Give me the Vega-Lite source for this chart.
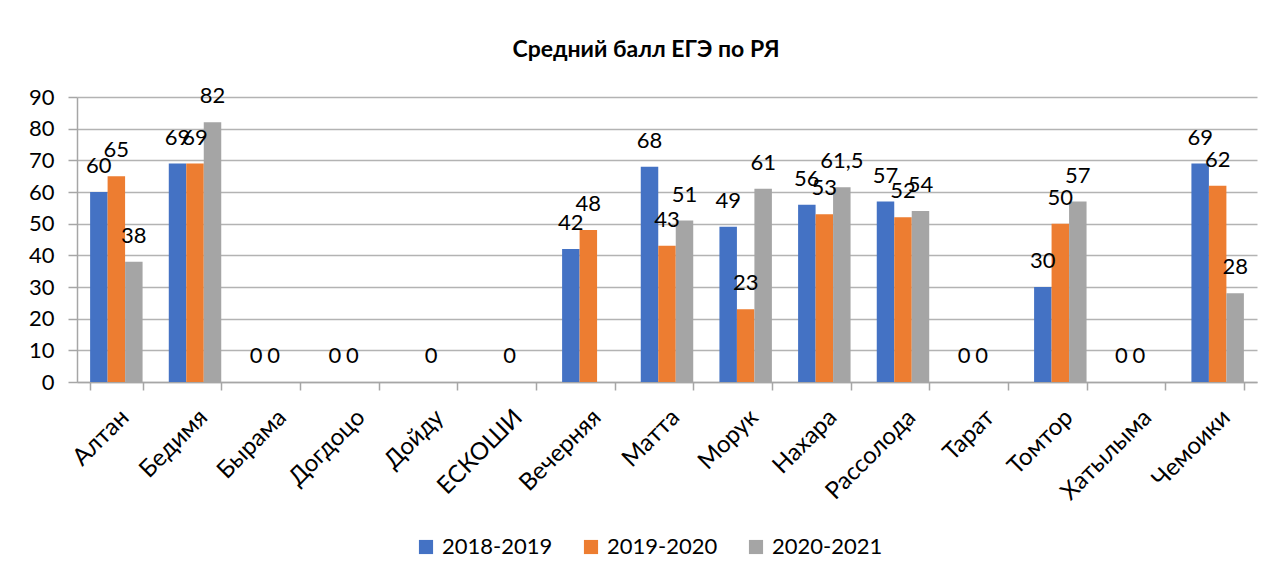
{
  "$schema": "https://vega.github.io/schema/vega-lite/v6.json",
  "autosize": {"type": "none"},
  "width": 1180,
  "height": 285,
  "padding": {"left": 77, "top": 97, "right": 20, "bottom": 199},
  "background": "white",
  "title": {"text": "Средний балл ЕГЭ по РЯ", "font": "Lato", "fontSize": 23, "fontWeight": "bold", "color": "#000000", "dx": -21, "offset": 23},
  "config": {
    "font": "Lato",
    "view": {"stroke": null},
    "locale": {"number": {"decimal": ",", "thousands": " ", "grouping": [3], "currency": ["", " ₽"]}}
  },
  "data": {"values": [
    {"school": "Алтан", "year": "2018-2019", "score": 60},
    {"school": "Алтан", "year": "2019-2020", "score": 65},
    {"school": "Алтан", "year": "2020-2021", "score": 38},
    {"school": "Бедимя", "year": "2018-2019", "score": 69},
    {"school": "Бедимя", "year": "2019-2020", "score": 69},
    {"school": "Бедимя", "year": "2020-2021", "score": 82},
    {"school": "Бырама", "year": "2018-2019", "score": 0},
    {"school": "Бырама", "year": "2019-2020", "score": 0},
    {"school": "Догдоцо", "year": "2018-2019", "score": 0},
    {"school": "Догдоцо", "year": "2019-2020", "score": 0},
    {"school": "Дойду", "year": "2019-2020", "score": 0},
    {"school": "ЕСКОШИ", "year": "2019-2020", "score": 0},
    {"school": "Вечерняя", "year": "2018-2019", "score": 42},
    {"school": "Вечерняя", "year": "2019-2020", "score": 48},
    {"school": "Матта", "year": "2018-2019", "score": 68},
    {"school": "Матта", "year": "2019-2020", "score": 43},
    {"school": "Матта", "year": "2020-2021", "score": 51},
    {"school": "Морук", "year": "2018-2019", "score": 49},
    {"school": "Морук", "year": "2019-2020", "score": 23},
    {"school": "Морук", "year": "2020-2021", "score": 61},
    {"school": "Нахара", "year": "2018-2019", "score": 56},
    {"school": "Нахара", "year": "2019-2020", "score": 53},
    {"school": "Нахара", "year": "2020-2021", "score": 61.5},
    {"school": "Рассолода", "year": "2018-2019", "score": 57},
    {"school": "Рассолода", "year": "2019-2020", "score": 52},
    {"school": "Рассолода", "year": "2020-2021", "score": 54},
    {"school": "Тарат", "year": "2018-2019", "score": 0},
    {"school": "Тарат", "year": "2019-2020", "score": 0},
    {"school": "Томтор", "year": "2018-2019", "score": 30},
    {"school": "Томтор", "year": "2019-2020", "score": 50},
    {"school": "Томтор", "year": "2020-2021", "score": 57},
    {"school": "Хатылыма", "year": "2018-2019", "score": 0},
    {"school": "Хатылыма", "year": "2019-2020", "score": 0},
    {"school": "Чемоики", "year": "2018-2019", "score": 69},
    {"school": "Чемоики", "year": "2019-2020", "score": 62},
    {"school": "Чемоики", "year": "2020-2021", "score": 28}
  ]},
  "encoding": {
    "x": {
      "field": "school", "type": "nominal",
      "sort": ["Алтан", "Бедимя", "Бырама", "Догдоцо", "Дойду", "ЕСКОШИ", "Вечерняя", "Матта", "Морук", "Нахара", "Рассолода", "Тарат", "Томтор", "Хатылыма", "Чемоики"],
      "scale": {"domain": ["Алтан", "Бедимя", "Бырама", "Догдоцо", "Дойду", "ЕСКОШИ", "Вечерняя", "Матта", "Морук", "Нахара", "Рассолода", "Тарат", "Томтор", "Хатылыма", "Чемоики"], "paddingInner": 0.333, "paddingOuter": 0.1667},
      "axis": {"title": null, "labelAngle": -45, "labelAlign": "right", "labelBaseline": "top", "labelFontSize": 24, "labelColor": "#000000", "labelPadding": 15, "tickBand": "extent", "tickSize": 8, "tickColor": "#a6a6a6", "tickWidth": 1.5, "domainColor": "#a6a6a6", "domainWidth": 1.5, "grid": false}
    },
    "xOffset": {"field": "year", "type": "nominal", "scale": {"domain": ["2018-2019", "2019-2020", "2020-2021"], "paddingInner": 0, "paddingOuter": 0}},
    "y": {
      "field": "score", "type": "quantitative",
      "scale": {"domain": [0, 90], "nice": false},
      "axis": {"title": null, "values": [0, 10, 20, 30, 40, 50, 60, 70, 80, 90], "labelFontSize": 22, "labelColor": "#000000", "labelPadding": 14, "tickSize": 9, "tickColor": "#a6a6a6", "tickWidth": 1.5, "domainColor": "#a6a6a6", "domainWidth": 1.5, "gridColor": "#b3b3b3", "gridWidth": 1.5}
    }
  },
  "layer": [
    {
      "mark": {"type": "bar"},
      "encoding": {
        "color": {"field": "year", "type": "nominal",
          "scale": {"domain": ["2018-2019", "2019-2020", "2020-2021"], "range": ["#4472C4", "#ED7D31", "#A5A5A5"]},
          "legend": {"title": null, "orient": "none", "legendX": 338, "legendY": 439, "direction": "horizontal", "symbolType": "square", "symbolSize": 200, "symbolStrokeWidth": 0, "labelFontSize": 22, "labelColor": "#000000", "columnPadding": 27, "labelOffset": 5}
        }
      }
    },
    {
      "mark": {"type": "text", "baseline": "middle", "dy": -26, "fontSize": 22, "color": "#000000"},
      "encoding": {"text": {"field": "score", "type": "quantitative", "format": "~g"}}
    }
  ]
}
